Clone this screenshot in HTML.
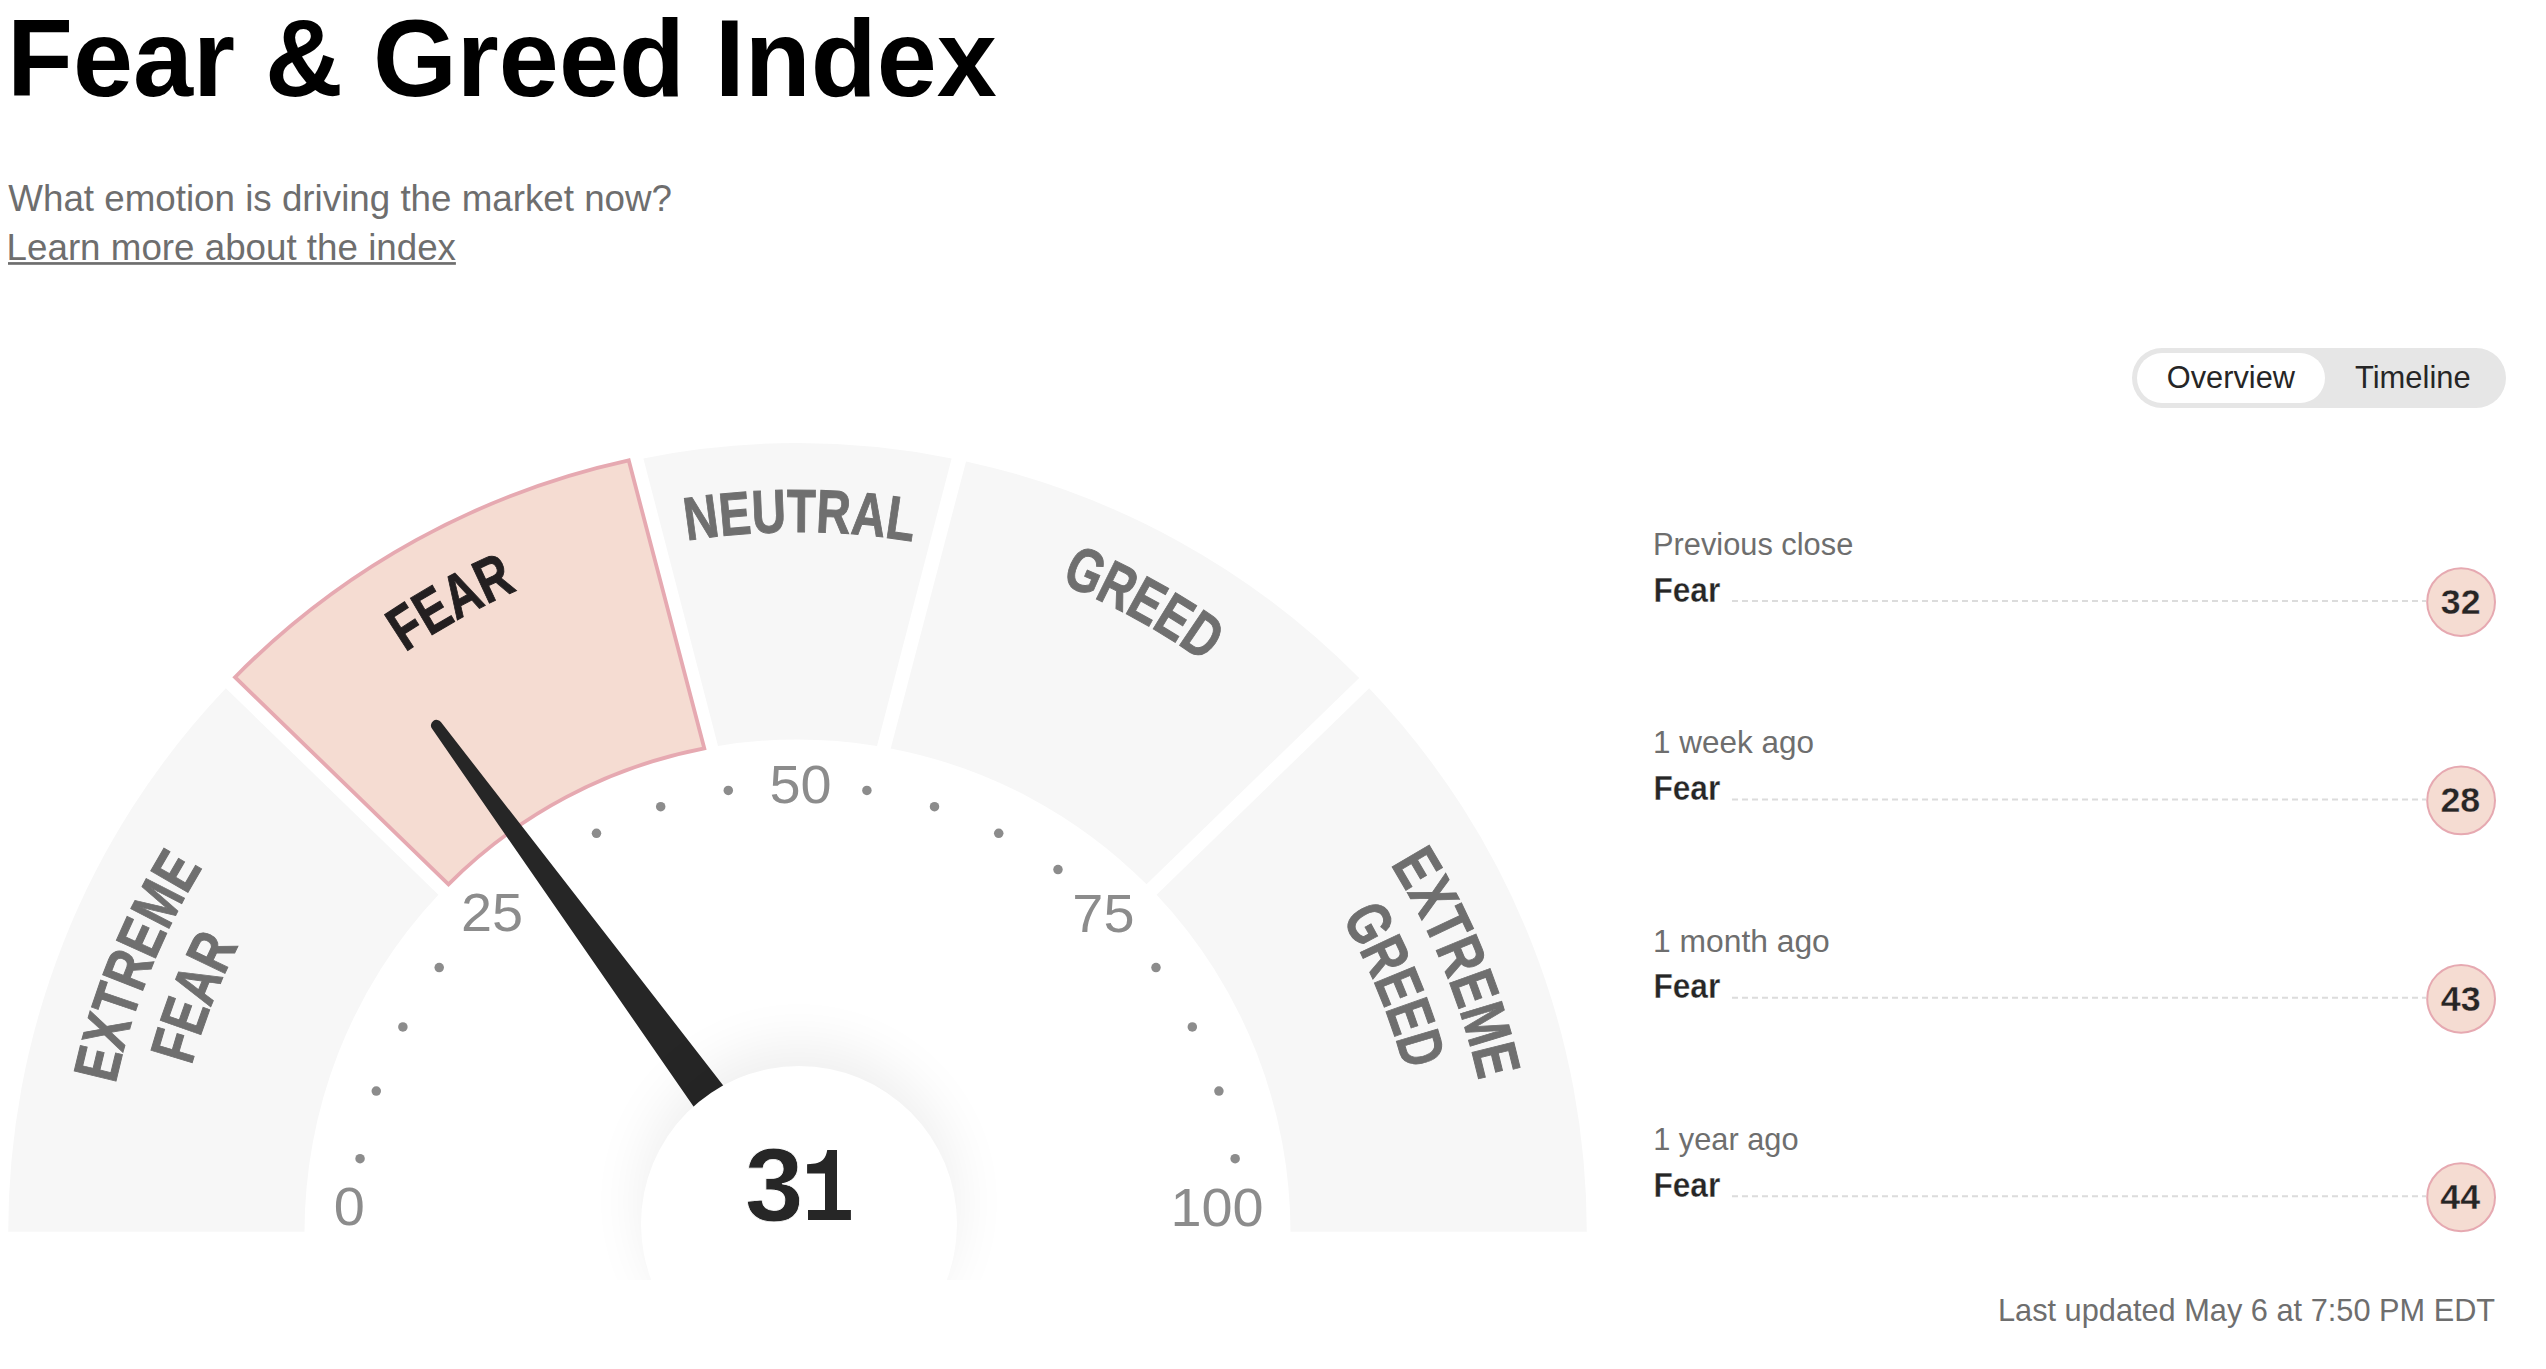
<!DOCTYPE html>
<html><head><meta charset="utf-8"><title>Fear &amp; Greed Index</title>
<style>
html,body{margin:0;padding:0;background:#fff}
body{width:2546px;height:1369px;position:relative;overflow:hidden;font-family:"Liberation Sans",sans-serif}
svg{font-family:"Liberation Sans",sans-serif}
.tog{position:absolute;left:2132px;top:348px;width:374px;height:60px;border-radius:30px;background:#e6e6e6}
.tog .on{position:absolute;left:5px;top:5px;width:188px;height:50px;border-radius:25px;background:#fff}
.clip{position:absolute;left:0;top:0;width:1700px;height:1280px;overflow:hidden}
.g{position:absolute;left:0;top:0}
.hub{position:absolute;left:640.5px;top:1065.7px;width:316px;height:316px;border-radius:50%;background:#fff;box-shadow:0 -22px 55px rgba(0,0,0,0.065)}
.ov{position:absolute;left:0;top:0}
</style></head><body>
<div class="tog"><div class="on"></div></div>
<div class="clip">
<svg class="g" width="1700" height="1280" viewBox="0 0 1700 1280">
<defs><path id="lNeu" d="M192.01,880.24 A700.5,700.5 0 0 1 1405.31,884.26"/><path id="lFear" d="M97.15,1218.07 A700.5,700.5 0 0 1 1160.17,633.19"/><path id="lGreed" d="M434.41,633.44 A700.5,700.5 0 0 1 1497.84,1217.59"/><path id="lEx1" d="M248.22,1663.19 A698,698 0 0 1 699.15,541.46"/><path id="lEx2" d="M307.07,1625.55 A628.5,628.5 0 0 1 702.32,611.25"/><path id="lEg1" d="M892.23,540.96 A698,698 0 0 1 1349.03,1660.31"/><path id="lEg2" d="M879.54,609.38 A628.5,628.5 0 0 1 1296.12,1615.11"/><clipPath id="cl"><rect x="0" y="0" width="1700" height="1231.7"/></clipPath></defs>
<g clip-path="url(#cl)"><path d="M8.23,1239.39 A789.3,789.3 0 0 1 225.82,688.28 L438.41,894.7 A493,493 0 0 0 304.52,1236.8 Z" fill="#f7f7f7"/><path d="M643.38,458.39 A789.3,789.3 0 0 1 951.62,458.39 L877,745.95 A493,493 0 0 0 718,745.95 Z" fill="#f7f7f7"/><path d="M966.05,461.41 A789.3,789.3 0 0 1 1359.21,678 L1146.53,884.32 A493,493 0 0 0 890.72,748.39 Z" fill="#f7f7f7"/><path d="M1369.18,688.28 A789.3,789.3 0 0 1 1586.77,1239.39 L1290.48,1236.8 A493,493 0 0 0 1156.59,894.7 Z" fill="#f7f7f7"/><path d="M235.01,677.22 A790.4,790.4 0 0 1 628.72,460.33 L704.28,748.39 A493,493 0 0 0 448.47,884.32 Z" fill="#f5dcd2" stroke="#e6a9b1" stroke-width="3.8"/></g>
<circle cx="360.05" cy="1158.7" r="4.75" fill="#8c8c8c"/><circle cx="376.28" cy="1091.11" r="4.75" fill="#8c8c8c"/><circle cx="402.88" cy="1026.88" r="4.75" fill="#8c8c8c"/><circle cx="439.21" cy="967.61" r="4.75" fill="#8c8c8c"/><circle cx="537.21" cy="869.61" r="4.75" fill="#8c8c8c"/><circle cx="596.48" cy="833.28" r="4.75" fill="#8c8c8c"/><circle cx="660.71" cy="806.68" r="4.75" fill="#8c8c8c"/><circle cx="728.3" cy="790.45" r="4.75" fill="#8c8c8c"/><circle cx="866.9" cy="790.45" r="4.75" fill="#8c8c8c"/><circle cx="934.49" cy="806.68" r="4.75" fill="#8c8c8c"/><circle cx="998.72" cy="833.28" r="4.75" fill="#8c8c8c"/><circle cx="1057.99" cy="869.61" r="4.75" fill="#8c8c8c"/><circle cx="1155.99" cy="967.61" r="4.75" fill="#8c8c8c"/><circle cx="1192.32" cy="1026.88" r="4.75" fill="#8c8c8c"/><circle cx="1218.92" cy="1091.11" r="4.75" fill="#8c8c8c"/><circle cx="1235.15" cy="1158.7" r="4.75" fill="#8c8c8c"/>
<text transform="translate(333.72,1224.8) scale(1.035,1)" font-size="54" fill="#8c8c8c">0</text><text transform="translate(461.03,931.2) scale(1.035,1)" font-size="54" fill="#8c8c8c">25</text><text transform="translate(769.45,803.2) scale(1.035,1)" font-size="54" fill="#8c8c8c">50</text><text transform="translate(1072.35,932.2) scale(1.035,1)" font-size="54" fill="#8c8c8c">75</text><text transform="translate(1170.44,1225.7) scale(1.035,1)" font-size="54" fill="#8c8c8c">100</text>
<text font-size="61" font-weight="bold" fill="#6f6f6f" stroke="#6f6f6f" stroke-width="1" text-anchor="middle"><textPath href="#lNeu" startOffset="50%" textLength="227.0" lengthAdjust="spacingAndGlyphs">NEUTRAL</textPath></text><text font-size="62" font-weight="bold" fill="#231f20" stroke="#231f20" stroke-width="1" text-anchor="middle"><textPath href="#lFear" startOffset="50%" textLength="128.5" lengthAdjust="spacingAndGlyphs">FEAR</textPath></text><text font-size="62" font-weight="bold" fill="#6f6f6f" stroke="#6f6f6f" stroke-width="1" text-anchor="middle"><textPath href="#lGreed" startOffset="50%" textLength="165.0" lengthAdjust="spacingAndGlyphs">GREED</textPath></text><text font-size="62.5" font-weight="bold" fill="#6f6f6f" stroke="#6f6f6f" stroke-width="1" text-anchor="middle"><textPath href="#lEx1" startOffset="50%" textLength="235.0" lengthAdjust="spacingAndGlyphs">EXTREME</textPath></text><text font-size="62.5" font-weight="bold" fill="#6f6f6f" stroke="#6f6f6f" stroke-width="1" text-anchor="middle"><textPath href="#lEx2" startOffset="50%" textLength="129.5" lengthAdjust="spacingAndGlyphs">FEAR</textPath></text><text font-size="62.5" font-weight="bold" fill="#6f6f6f" stroke="#6f6f6f" stroke-width="1" text-anchor="middle"><textPath href="#lEg1" startOffset="50%" textLength="235.0" lengthAdjust="spacingAndGlyphs">EXTREME</textPath></text><text font-size="62.5" font-weight="bold" fill="#6f6f6f" stroke="#6f6f6f" stroke-width="1" text-anchor="middle"><textPath href="#lEg2" startOffset="50%" textLength="166.0" lengthAdjust="spacingAndGlyphs">GREED</textPath></text>
<path d="M432.09,728.84 L785.93,1240 L843.33,1240 L441.09,722.25 A5.58,5.58 0 1 0 432.09,728.84 Z" fill="#262626"/>
</svg>
<div class="hub"></div>
<svg class="g" width="1700" height="1280" viewBox="0 0 1700 1280"><text transform="translate(744.86,1220.9) scale(1.017,1)" font-size="103.9" font-weight="bold" fill="#262626" stroke="#fff" stroke-width="0.8">3</text><path fill="#262626" d="M827.2,1150 L837,1150 L837,1209.9 L850.9,1209.9 L850.9,1220 L808,1220 L808,1209.9 L825,1209.9 L825,1173.5 L807.1,1173.5 L807.1,1164.3 C815.5,1164.1 820.5,1162.6 823.2,1159.6 C825.6,1157 826.6,1153.8 827.2,1150 Z"/></svg>
</div>
<svg class="ov" width="2546" height="1369" viewBox="0 0 2546 1369"><text transform="translate(6.98,95.5) scale(0.994,1)" font-size="108.6" font-weight="bold" fill="#000">Fear &amp; Greed Index</text><text transform="translate(8.28,210.8) scale(0.988,1)" font-size="37.2" fill="#6e6e6e">What emotion is driving the market now?</text><text transform="translate(6.58,259.8) scale(0.988,1)" font-size="37.2" fill="#6e6e6e">Learn more about the index</text><rect x="8" y="262.1" width="447.9" height="2.7" fill="#6e6e6e"/><text transform="translate(2166.84,387.8) scale(0.97,1)" font-size="31.7" fill="#262626">Overview</text><text transform="translate(2355,387.8) scale(0.975,1)" font-size="31.7" fill="#262626">Timeline</text><text transform="translate(1652.97,555) scale(0.972,1)" font-size="31.7" fill="#6e6e6e">Previous close</text><text transform="translate(1653.38,601.5) scale(0.91,1)" font-size="34.8" font-weight="bold" fill="#262626" stroke="#fff" stroke-width="0.35">Fear</text><line x1="1732" y1="601" x2="2426" y2="601" stroke="#dcdcdc" stroke-width="2" stroke-dasharray="6 4"/><circle cx="2461.1" cy="602.05" r="33.9" fill="#f5dcd2" stroke="#e6a9b1" stroke-width="2"/><text transform="translate(2440.75,613.7) scale(1.0,1)" font-size="35.8" font-weight="bold" fill="#262626" stroke="#f5dcd2" stroke-width="0.35">32</text><text transform="translate(1653.1,753.4) scale(0.992,1)" font-size="31.7" fill="#6e6e6e">1 week ago</text><text transform="translate(1653.38,799.9) scale(0.91,1)" font-size="34.8" font-weight="bold" fill="#262626" stroke="#fff" stroke-width="0.35">Fear</text><line x1="1732" y1="799.4" x2="2426" y2="799.4" stroke="#dcdcdc" stroke-width="2" stroke-dasharray="6 4"/><circle cx="2461.1" cy="800.45" r="33.9" fill="#f5dcd2" stroke="#e6a9b1" stroke-width="2"/><text transform="translate(2440.4,812.1) scale(1.0,1)" font-size="35.8" font-weight="bold" fill="#262626" stroke="#f5dcd2" stroke-width="0.35">28</text><text transform="translate(1653.07,951.8) scale(1.003,1)" font-size="31.7" fill="#6e6e6e">1 month ago</text><text transform="translate(1653.38,998.3) scale(0.91,1)" font-size="34.8" font-weight="bold" fill="#262626" stroke="#fff" stroke-width="0.35">Fear</text><line x1="1732" y1="997.8" x2="2426" y2="997.8" stroke="#dcdcdc" stroke-width="2" stroke-dasharray="6 4"/><circle cx="2461.1" cy="998.85" r="33.9" fill="#f5dcd2" stroke="#e6a9b1" stroke-width="2"/><text transform="translate(2440.84,1010.5) scale(1.0,1)" font-size="35.8" font-weight="bold" fill="#262626" stroke="#f5dcd2" stroke-width="0.35">43</text><text transform="translate(1653.15,1150.2) scale(0.971,1)" font-size="31.7" fill="#6e6e6e">1 year ago</text><text transform="translate(1653.38,1196.7) scale(0.91,1)" font-size="34.8" font-weight="bold" fill="#262626" stroke="#fff" stroke-width="0.35">Fear</text><line x1="1732" y1="1196.2" x2="2426" y2="1196.2" stroke="#dcdcdc" stroke-width="2" stroke-dasharray="6 4"/><circle cx="2461.1" cy="1197.25" r="33.9" fill="#f5dcd2" stroke="#e6a9b1" stroke-width="2"/><text transform="translate(2440.29,1208.9) scale(1.0,1)" font-size="35.8" font-weight="bold" fill="#262626" stroke="#f5dcd2" stroke-width="0.35">44</text><text transform="translate(1997.97,1321.1) scale(0.955,1)" font-size="32.2" fill="#6e6e6e">Last updated May 6 at 7:50 PM EDT</text></svg>
</body></html>
